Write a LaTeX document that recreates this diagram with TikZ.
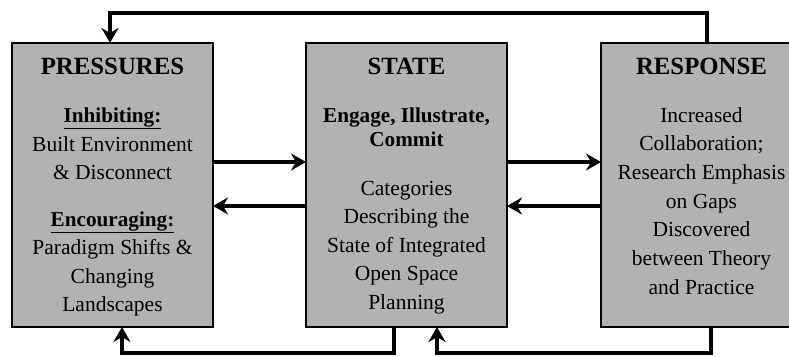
\documentclass[tikz,border=0pt]{standalone}
\usepackage{fontspec}
\setmainfont{Liberation Serif}
\usetikzlibrary{arrows.meta}
\definecolor{boxgray}{RGB}{178,178,178}
\begin{document}
\begin{tikzpicture}[x=1pt,y=-1pt,
  box/.style={draw=black, line width=1.5pt, fill=boxgray, minimum width=201pt, minimum height=284pt, inner sep=0pt, outer sep=0pt},
  ttl/.style={anchor=base, inner sep=0pt, font=\fontsize{24.8}{29}\selectfont\bfseries},
  txt/.style={anchor=base, inner sep=0pt, font=\fontsize{21.5}{28.7}\selectfont},
  btxt/.style={anchor=base, inner sep=0pt, font=\fontsize{21.2}{28.7}\selectfont\bfseries},
  conn/.style={line width=3.5pt, draw=black},
  tip/.style={-{Stealth[length=15pt,width=17pt,inset=5pt]}}]
\useasboundingbox (0,0) rectangle (789,356);

% boxes
\node[box] (p) at (112.5,185) {};
\node[box] (s) at (406.5,185) {};
\node[box] (r) at (701.5,185) {};

% PRESSURES
\node[ttl] (p0) at (112.5,74) {PRESSURES};
\node[btxt] (p1) at (112.5,122) {\underline{Inhibiting:}};
\node[txt] (p2) at (112.5,151) {Built Environment};
\node[txt] (p3) at (112.5,179) {\& Disconnect};
\node[btxt] (p4) at (112.5,226) {\underline{Encouraging:}};
\node[txt] (p5) at (112.5,254.5) {Paradigm Shifts \&};
\node[txt] (p6) at (112.5,283) {Changing};
\node[txt] (p7) at (112.5,311) {Landscapes};

% STATE
\node[ttl] (s0) at (406.5,74) {STATE};
\node[btxt] (s1) at (406.5,122) {Engage, Illustrate,};
\node[btxt] (s2) at (406.5,146) {Commit};
\node[txt] (s3) at (406.5,195) {Categories};
\node[txt] (s4) at (406.5,223.5) {Describing the};
\node[txt] (s5) at (406.5,252) {State of Integrated};
\node[txt] (s6) at (406.5,280.5) {Open Space};
\node[txt] (s7) at (406.5,309) {Planning};

% RESPONSE
\node[ttl] (r0) at (701.5,74) {RESPONSE};
\node[txt] (r1) at (701.5,122) {Increased};
\node[txt] (r2) at (701.5,150.7) {Collaboration;};
\node[txt] (r3) at (701.5,179.4) {Research Emphasis};
\node[txt] (r4) at (701.5,208.1) {on Gaps};
\node[txt] (r5) at (701.5,236.8) {Discovered};
\node[txt] (r6) at (701.5,265.5) {between Theory};
\node[txt] (r7) at (701.5,294.2) {and Practice};

% horizontal connectors
\draw[conn,tip] ([yshift=23pt]p.east) -- ([yshift=23pt]s.west);
\draw[conn,tip] ([yshift=-21pt]s.west) -- ([yshift=-21pt]p.east);
\draw[conn,tip] ([yshift=23pt]s.east) -- ([yshift=23pt]r.west);
\draw[conn,tip] ([yshift=-21pt]r.west) -- ([yshift=-21pt]s.east);

% feedback loops
\draw[conn,tip] ([xshift=5.5pt]r.north) -- ++(0,-30) -| ([xshift=-2.5pt]p.north);
\draw[conn,tip] ([xshift=-12.5pt]s.south) -- ++(0,26) -| ([xshift=9.5pt]p.south);
\draw[conn,tip] ([xshift=9.5pt]r.south) -- ++(0,26) -| ([xshift=30.5pt]s.south);
\end{tikzpicture}
\end{document}
